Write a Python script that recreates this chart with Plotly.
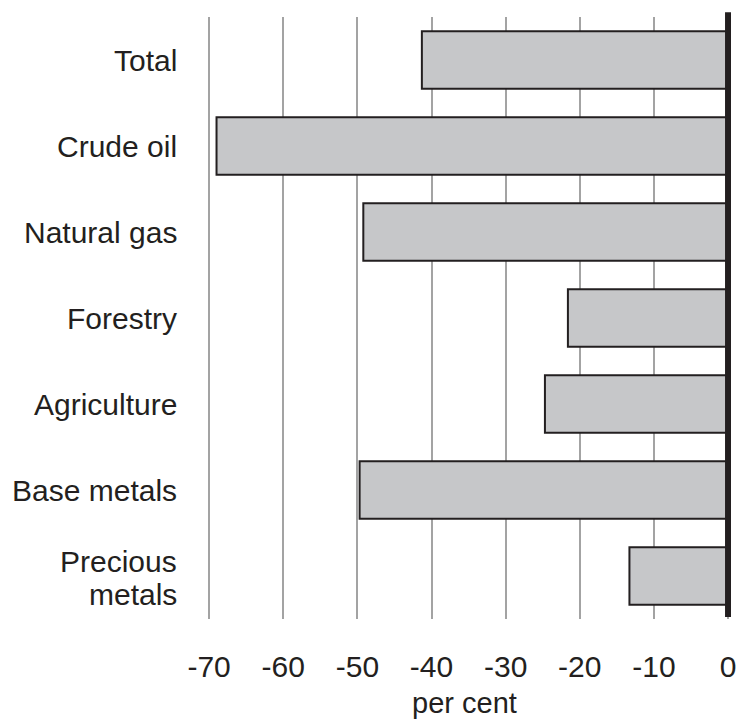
import plotly.graph_objects as go

categories = ["Total", "Crude oil", "Natural gas", "Forestry", "Agriculture",
              "Base metals", "Precious<br>metals"]
values = [-41.3, -69.0, -49.2, -21.6, -24.7, -49.7, -13.3]
x_ticks = [-70, -60, -50, -40, -30, -20, -10, 0]

ink = "#231f20"
font_family = "Liberation Sans, Arial, Helvetica, sans-serif"
label_size = 30
line_gap = 33

fig = go.Figure()
fig.add_trace(go.Bar(
    y=categories, x=values, orientation="h",
    marker=dict(color="#c6c7c9", line=dict(color=ink, width=2)),
    width=0.67,
))

fig.add_shape(type="line", xref="x", yref="paper", x0=0, x1=0, y0=0.0033, y1=1.008,
              line=dict(color=ink, width=6), layer="above")

# category labels (multi-line labels with tighter line spacing)
for i, cat in enumerate(categories):
    lines = cat.split("<br>")
    n = len(lines)
    for j, line in enumerate(lines):
        offset = (j - (n - 1) / 2) * line_gap
        extra = -2 if n > 1 else 0
        fig.add_annotation(
            x=0, xref="paper", y=i, yref="y", text=line, showarrow=False,
            xanchor="right", yanchor="middle", xshift=-19,
            yshift=-offset + extra,
            font=dict(size=label_size, color=ink, family=font_family),
        )

fig.update_layout(
    width=742, height=719,
    margin=dict(l=198, r=11.4, t=17, b=100, autoexpand=False),
    plot_bgcolor="white", paper_bgcolor="white",
    showlegend=False,
    font=dict(family=font_family, size=30, color=ink),
)
fig.update_xaxes(
    range=[-71.5, 0.4], tickvals=x_ticks, ticktext=[str(v) for v in x_ticks],
    showgrid=True, gridcolor="#a3a3a3", gridwidth=1.5,
    zeroline=False, showline=False, ticks="", automargin=False,
    ticklabelstandoff=27,
    title=dict(text="per cent", standoff=10, font=dict(size=29, color=ink)),
    tickfont=dict(size=30, color=ink),
)
fig.update_yaxes(
    autorange="reversed", showgrid=False, zeroline=False, showline=False,
    ticks="", automargin=False, showticklabels=False,
)

fig.write_html(
    "out.html",
    config={"displayModeBar": False},
    post_script="document.body.style.margin='0';document.body.style.overflow='hidden';",
)
